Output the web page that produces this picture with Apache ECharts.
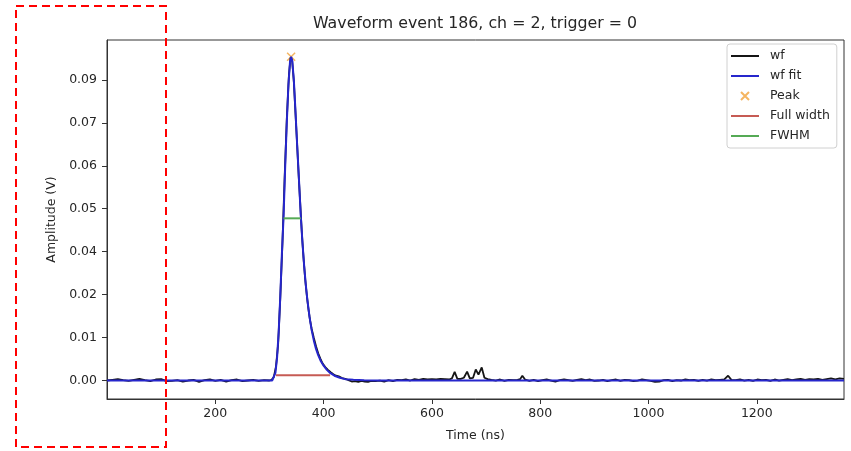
<!DOCTYPE html>
<html>
<head>
<meta charset="utf-8">
<title>Waveform</title>
<script src="https://cdn.jsdelivr.net/npm/echarts@6/dist/echarts.min.js"></script>
<style>
  html, body { margin: 0; padding: 0; background: #fff; }
  #chart { width: 851px; height: 451px; }
</style>
</head>
<body>
<div id="chart"></div>
<script>
  const titleText = 'Waveform event 186, ch = 2, trigger = 0'
  const seriesNames = ['wf', 'wf fit', 'Peak', 'Full width', 'FWHM']

  // measured waveform [time ns, amplitude V]
  const wfPoints = [
    [0, 0.0000], [10, 0.0002], [20, 0.0004], [30, 0.0001], [40, -0.0001], [50, 0.0002],
    [60, 0.0005], [70, 0.0001], [80, -0.0002], [90, 0.0003], [100, 0.0004], [110, -0.0002],
    [120, -0.0001], [130, 0.0001], [140, -0.0003], [150, 0.0000], [160, 0.0002], [170, -0.0004],
    [180, 0.0001], [190, 0.0003], [200, -0.0001], [210, 0.0002], [220, -0.0003], [230, 0.0001],
    [240, 0.0003], [250, -0.0002], [260, 0.0000], [270, 0.0002], [280, -0.0001], [290, 0.0001],
    [300, 0.0000], [304, 0.0002], [308, 0.0010], [312, 0.0040], [316, 0.0105], [320, 0.0240],
    [324, 0.0400], [328, 0.0590], [332, 0.0760], [336, 0.0890], [339, 0.0940], [342, 0.0930],
    [345, 0.0870], [348, 0.0780], [351, 0.0690], [354, 0.0595], [357, 0.0510], [360, 0.0425],
    [363, 0.0355], [366, 0.0295], [369, 0.0248], [372, 0.0208], [375, 0.0175], [378, 0.0150],
    [382, 0.0124], [386, 0.0100], [390, 0.0079], [394, 0.0064], [398, 0.0050], [403, 0.0039],
    [408, 0.0031], [413, 0.0024], [418, 0.0018], [423, 0.0014], [428, 0.0012], [434, 0.0007],
    [440, 0.0005], [446, 0.0001], [452, -0.0003], [458, -0.0002], [464, -0.0004], [470, -0.0001],
    [476, -0.0003], [482, -0.0004], [488, -0.0001], [496, -0.0002], [504, 0.0000], [512, -0.0003],
    [520, 0.0001], [528, -0.0002], [536, 0.0002], [544, 0.0001], [552, 0.0003], [560, 0.0000],
    [568, 0.0004], [576, 0.0002], [584, 0.0005], [592, 0.0003], [600, 0.0004], [608, 0.0003],
    [616, 0.0005], [624, 0.0004], [632, 0.0003], [637, 0.0006], [642, 0.0025], [647, 0.0005],
    [653, 0.0005], [659, 0.0008], [665, 0.0026], [670, 0.0006], [676, 0.0008], [681, 0.0032],
    [686, 0.0017], [692, 0.0038], [697, 0.0008], [703, 0.0004], [710, 0.0002], [718, 0.0000],
    [726, 0.0003], [734, -0.0001], [742, 0.0002], [750, 0.0001], [758, 0.0002], [763, 0.0004],
    [767, 0.0014], [772, 0.0003], [780, -0.0001], [788, 0.0002], [796, -0.0002], [804, 0.0001],
    [812, 0.0003], [820, 0.0000], [828, -0.0003], [836, 0.0001], [844, 0.0003], [852, 0.0001],
    [860, -0.0001], [868, 0.0002], [876, 0.0004], [884, 0.0001], [892, 0.0003], [900, -0.0001],
    [908, 0.0000], [916, 0.0002], [924, -0.0002], [932, 0.0001], [940, 0.0003], [948, -0.0001],
    [956, 0.0002], [964, 0.0001], [972, -0.0002], [980, 0.0000], [988, 0.0003], [996, 0.0001],
    [1004, -0.0001], [1012, -0.0004], [1020, -0.0003], [1028, 0.0001], [1036, 0.0002], [1044, -0.0002],
    [1052, 0.0001], [1060, 0.0000], [1068, 0.0003], [1076, 0.0001], [1084, 0.0002], [1092, -0.0001],
    [1100, 0.0002], [1108, 0.0000], [1116, 0.0003], [1124, 0.0001], [1132, 0.0002], [1140, 0.0003],
    [1147, 0.0014], [1153, 0.0002], [1161, 0.0001], [1169, 0.0003], [1177, 0.0000], [1185, 0.0002],
    [1193, -0.0001], [1201, 0.0003], [1209, 0.0001], [1217, 0.0002], [1225, -0.0001], [1233, 0.0003],
    [1241, 0.0000], [1249, 0.0002], [1257, 0.0004], [1265, 0.0001], [1273, 0.0003], [1281, 0.0005],
    [1289, 0.0002], [1297, 0.0004], [1305, 0.0003], [1313, 0.0005], [1321, 0.0002], [1329, 0.0004],
    [1337, 0.0006], [1345, 0.0003], [1353, 0.0006], [1361, 0.0005]
  ]

  // fitted pulse
  const fitPoints = [
    [0, 0], [305, 0], [308, 0.0004], [311, 0.0022], [314, 0.0065], [317, 0.0140],
    [320, 0.0245], [323, 0.0370], [326, 0.0475], [329, 0.0620], [332, 0.0750], [335, 0.0860],
    [338, 0.0928], [340, 0.0942], [342, 0.0932], [345, 0.0875], [348, 0.0785], [351, 0.0690],
    [354, 0.0600], [358, 0.0475], [361, 0.0400], [364, 0.0335], [367, 0.0280], [370, 0.0235],
    [374, 0.0185], [378, 0.0146], [382, 0.0116], [386, 0.0092], [390, 0.0074], [395, 0.0056],
    [400, 0.0043], [406, 0.0031], [412, 0.0022], [420, 0.0014], [430, 0.0008], [440, 0.0004],
    [455, 0.0002], [475, 0.0001], [500, 0], [1361, 0]
  ]

  const peakPoint = [[340, 0.0942]]
  const fullWidthSeg = [[312, 0.0015], [412, 0.0015]]
  const fwhmSeg = [[326, 0.0472], [358, 0.0472]]

  const xTicks = [200, 400, 600, 800, 1000, 1200]
  const yTicks = [0, 0.0125, 0.025, 0.0375, 0.05, 0.0625, 0.075, 0.0875]
  const yTickLabels = ['0.00', '0.01', '0.02', '0.04', '0.05', '0.06', '0.07', '0.09']

  const font = 'DejaVu Sans'
  const txt = '#262626'
  const axisColor = '#333'

  const chart = echarts.init(document.getElementById('chart'), null, { renderer: 'canvas' })

  const lineSeries = (name, data, color, width) => ({
    name: name,
    type: 'line',
    data: data,
    symbol: 'none',
    showSymbol: false,
    lineStyle: { color: color, width: width },
    itemStyle: { color: color },
    emphasis: { disabled: true },
    animation: false
  })

  // legend entries: lines without the dot, peak keeps its cross
  const legendData = seriesNames.map(n => n === 'Peak'
    ? { name: n }
    : { name: n, itemStyle: { opacity: 0 } })

  chart.setOption({
    animation: false,
    backgroundColor: '#fff',
    title: {
      text: titleText,
      left: 313,
      top: 16,
      padding: 0,
      textStyle: { fontFamily: font, fontSize: 15.8, fontWeight: 'normal', color: txt }
    },
    grid: {
      left: 107,
      right: 7,
      top: 40,
      bottom: 52,
      show: true,
      borderColor: axisColor,
      borderWidth: 1
    },
    legend: {
      orient: 'vertical',
      left: 727,
      top: 44,
      padding: [5, 7, 5, 3],
      itemWidth: 28,
      itemHeight: 8,
      itemGap: 6,
      backgroundColor: '#fff',
      borderColor: '#d0d0d0',
      borderWidth: 1,
      borderRadius: 3,
      textStyle: { fontFamily: font, fontSize: 12.5, color: txt, lineHeight: 14, padding: [0, 0, 0, 6] },
      data: legendData
    },
    xAxis: {
      type: 'value',
      min: 0,
      max: 1361,
      name: 'Time (ns)',
      nameLocation: 'middle',
      nameGap: 30,
      nameTextStyle: { fontFamily: font, fontSize: 12.5, color: txt },
      axisLine: { show: true, onZero: false, lineStyle: { color: axisColor } },
      axisTick: { show: true, length: 5, customValues: xTicks, lineStyle: { color: axisColor } },
      axisLabel: {
        customValues: xTicks,
        margin: 8,
        fontFamily: font,
        fontSize: 12.5,
        color: txt,
        formatter: v => String(v)
      },
      splitLine: { show: false }
    },
    yAxis: {
      type: 'value',
      min: -0.00538,
      max: 0.0991,
      name: 'Amplitude (V)',
      nameLocation: 'middle',
      nameGap: 43,
      nameTextStyle: { fontFamily: font, fontSize: 12.5, color: txt },
      axisLine: { show: true, onZero: false, lineStyle: { color: axisColor } },
      axisTick: { show: true, length: 5, customValues: yTicks, lineStyle: { color: axisColor } },
      axisLabel: {
        customValues: yTicks,
        margin: 10,
        fontFamily: font,
        fontSize: 12.5,
        color: txt,
        formatter: function(v) {
          let best = 0
          yTicks.forEach((t, i) => {
            if (Math.abs(t - v) < Math.abs(yTicks[best] - v)) best = i
          })
          return yTickLabels[best]
        }
      },
      splitLine: { show: false }
    },
    series: [
      lineSeries('wf', wfPoints, '#151515', 1.8),
      lineSeries('wf fit', fitPoints, '#2626cc', 2),
      {
        name: 'Peak',
        type: 'scatter',
        data: peakPoint,
        symbol: 'path://M0,0L10,10M10,0L0,10',
        symbolSize: 8,
        itemStyle: { color: 'rgba(0,0,0,0)', borderColor: '#f2a33a', borderWidth: 1.5 },
        emphasis: { disabled: true },
        animation: false
      },
      lineSeries('Full width', fullWidthSeg, '#c65b54', 2),
      lineSeries('FWHM', fwhmSeg, '#55aa55', 2)
    ],
    graphic: [{
      type: 'rect',
      z: 100,
      shape: { x: 16, y: 6, width: 150, height: 441 },
      style: { fill: 'none', stroke: '#ff0000', lineWidth: 2, lineDash: [8, 5] }
    }]
  })
</script>
</body>
</html>
